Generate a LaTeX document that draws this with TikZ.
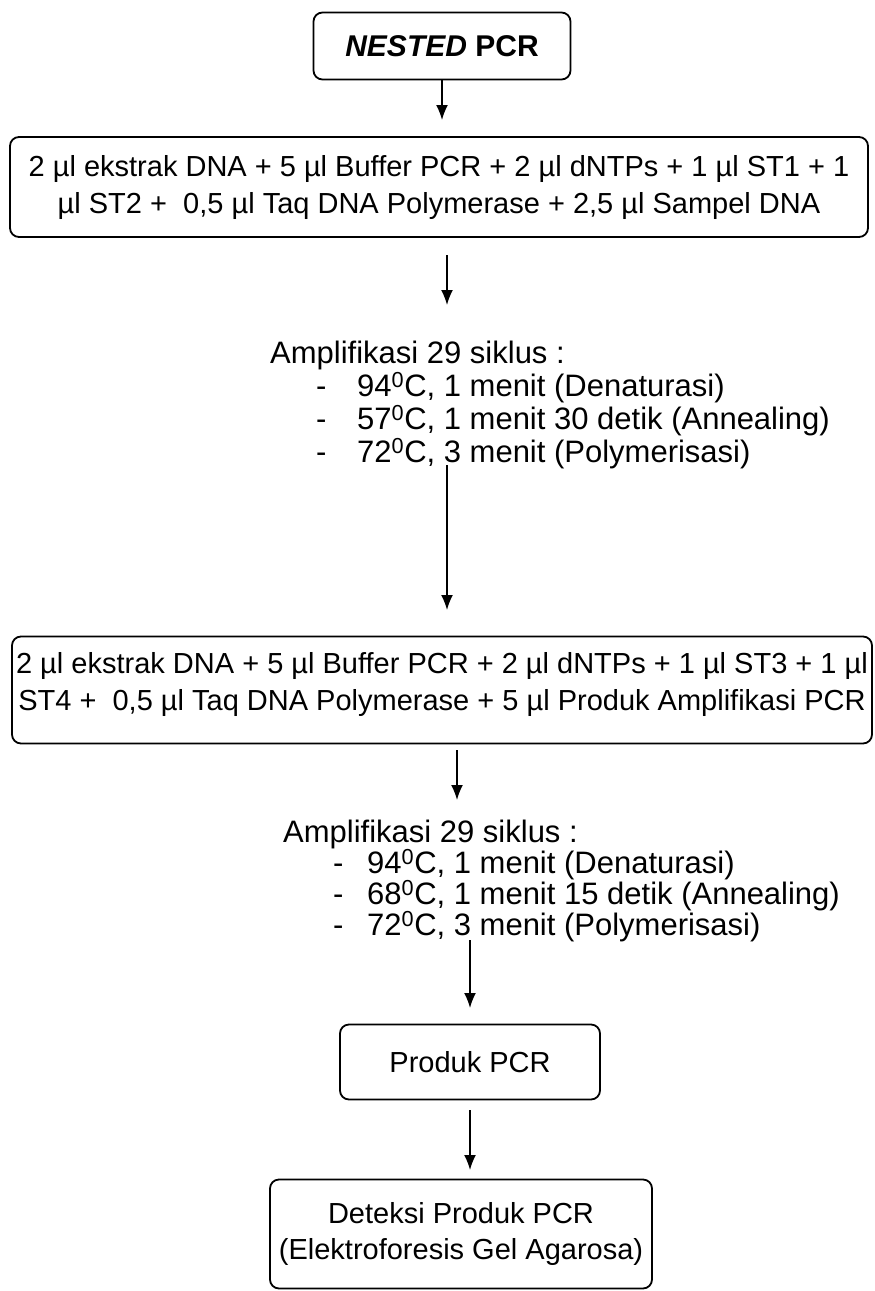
\documentclass[tikz,border=0pt]{standalone}
\usepackage{fontspec}
\setmainfont{Liberation Sans}
\usetikzlibrary{arrows.meta}
\begin{document}
\begin{tikzpicture}[x=1pt,y=-1pt,
  box/.style={draw, line width=1.8pt, rounded corners=9pt, inner sep=0pt},
  arr/.style={-{Latex[length=15pt,width=12pt]}, line width=1.6pt},
  boxtxt/.style={font=\fontsize{29}{37}\selectfont, align=center},
  listtxt/.style={font=\fontsize{31}{33}\selectfont, align=left, anchor=north west, inner sep=0pt}]
\useasboundingbox (0,0) rectangle (875,1291);

% top box
\node[box, minimum width=257pt, minimum height=67pt, font=\bfseries\fontsize{30}{36}\selectfont] (b1) at (442,46) {\textit{NESTED} PCR};
\coordinate (a1e) at (442,120);
\draw[arr] (b1.south) -- (a1e);

% first mixture box
\node[box, boxtxt, minimum width=858pt, minimum height=100pt] (b2) at (439,187)
 {2 µl ekstrak DNA + 5 µl Buffer PCR + 2 µl dNTPs + 1 µl ST1 + 1\\ µl ST2 + \ 0,5 µl Taq DNA Polymerase + 2,5 µl Sampel DNA};

\coordinate (a2s) at (447,255);
\coordinate (a2e) at (447,305);
\draw[arr] (a2s) -- (a2e);

% first amplification list
\node[listtxt] (l1) at (270,341) {Amplifikasi 29 siklus :\\
\hspace*{46pt}\makebox[41pt][l]{-}94\textsuperscript{0}C, 1 menit (Denaturasi)\\
\hspace*{46pt}\makebox[41pt][l]{-}57\textsuperscript{0}C, 1 menit 30 detik (Annealing)\\
\hspace*{46pt}\makebox[41pt][l]{-}72\textsuperscript{0}C, 3 menit (Polymerisasi)};

\coordinate (a3s) at (447,465);
\coordinate (a3e) at (447,610);
\draw[arr] (a3s) -- (a3e);

% second mixture box
\node[box, minimum width=860pt, minimum height=107pt] (b3) at (442,690) {};
\node[boxtxt] (t3) at (442,684)
 {2 µl ekstrak DNA + 5 µl Buffer PCR + 2 µl dNTPs + 1 µl ST3 + 1 µl\\ ST4 + \ 0,5 µl Taq DNA Polymerase + 5 µl Produk Amplifikasi PCR};

\coordinate (a4s) at (457,750);
\coordinate (a4e) at (457,800);
\draw[arr] (a4s) -- (a4e);

% second amplification list
\node[listtxt, font=\fontsize{31}{31}\selectfont] (l2) at (283,820) {Amplifikasi 29 siklus :\\
\hspace*{50pt}\makebox[34pt][l]{-}94\textsuperscript{0}C, 1 menit (Denaturasi)\\
\hspace*{50pt}\makebox[34pt][l]{-}68\textsuperscript{0}C, 1 menit 15 detik (Annealing)\\
\hspace*{50pt}\makebox[34pt][l]{-}72\textsuperscript{0}C, 3 menit (Polymerisasi)};

% product box
\node[box, boxtxt, minimum width=260pt, minimum height=75pt] (b4) at (470,1062) {Produk PCR};
\coordinate (a5s) at (470,940);
\coordinate (a5e) at (470,1008);
\draw[arr] (a5s) -- (a5e);

% detection box
\node[box, boxtxt, font=\fontsize{29}{36}\selectfont, minimum width=382pt, minimum height=109pt] (b5) at (461,1234)
 {Deteksi Produk PCR\\(Elektroforesis Gel Agarosa)};
\coordinate (a6s) at (470,1110);
\coordinate (a6e) at (470,1170);
\draw[arr] (a6s) -- (a6e);
\end{tikzpicture}
\end{document}
